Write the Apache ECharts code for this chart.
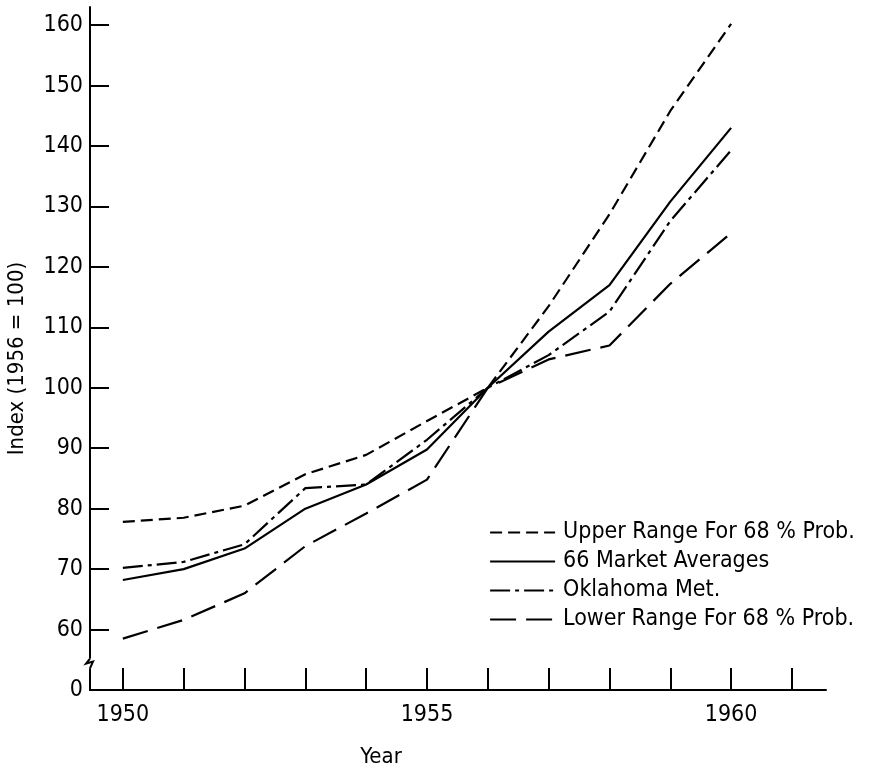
<!DOCTYPE html>
<html>
<head>
<meta charset="utf-8">
<script src="https://cdn.jsdelivr.net/npm/echarts@6/dist/echarts.min.js"></script>
<style>
html,body{margin:0;padding:0;background:#fff;}
#main{width:873px;height:770px;}
</style>
</head>
<body>
<div id="main"></div>
<script>
// ---- data ----
var years = [1950, 1951, 1952, 1953, 1954, 1955, 1956, 1957, 1958, 1959, 1960];
var upperRange = [77.8, 78.5, 80.5, 85.7, 88.9, 94.5, 100, 113.5, 128.7, 145.8, 160.2];
var marketAverages = [68.2, 70.0, 73.4, 80.0, 84.0, 89.8, 100, 109.3, 117.0, 130.8, 143.0];
var oklahomaMet = [70.2, 71.2, 74.1, 83.4, 84.0, 91.4, 100, 105.4, 112.6, 127.6, 139.3];
var lowerRange = [58.5, 61.6, 66.0, 73.8, 79.2, 84.8, 100, 104.7, 107.0, 117.2, 125.6];
var seriesNames = ['Upper Range For 68 % Prob.', '66 Market Averages', 'Oklahoma Met.', 'Lower Range For 68 % Prob.'];
var xTickYears = [1950, 1951, 1952, 1953, 1954, 1955, 1956, 1957, 1958, 1959, 1960, 1961];
var xLabelYears = [1950, 1955, 1960];
var yTickValues = [60, 70, 80, 90, 100, 110, 120, 130, 140, 150, 160];
var yLabelValues = [50, 60, 70, 80, 90, 100, 110, 120, 130, 140, 150, 160];

function pairs(vals) {
  return years.map(function (y, i) { return [y, vals[i]]; });
}

var FONT = '"DejaVu Sans Condensed", "Liberation Sans Narrow", "DejaVu Sans", sans-serif';
var chart = echarts.init(document.getElementById('main'));

function mkSeries(name, vals, type) {
  return {
    name: name,
    type: 'line',
    data: pairs(vals),
    symbol: 'none',
    smooth: false,
    lineStyle: { color: '#000', width: 2.2, type: type },
    itemStyle: { color: '#000' },
    emphasis: { disabled: true },
    animation: false
  };
}

var option = {
  animation: false,
  backgroundColor: '#fff',
  grid: { left: 90, right: 47, top: 7, bottom: 80, containLabel: false, outerBoundsMode: 'none' },
  legend: {
    orient: 'vertical',
    left: 484,
    top: 516,
    itemWidth: 65,
    itemHeight: 14,
    itemGap: 6,
    data: seriesNames,
    itemStyle: { opacity: 0 },
    lineStyle: { width: 2.2 },
    textStyle: { fontFamily: FONT, fontSize: 23, color: '#000', lineHeight: 22, padding: [0, 0, 0, 3] },
    selectedMode: false
  },
  xAxis: {
    type: 'value',
    min: 1949.46,
    max: 1961.56,
    name: 'Year',
    nameLocation: 'middle',
    nameGap: 56,
    nameTextStyle: { fontFamily: FONT, fontSize: 22, color: '#000', padding: [0, 154, 0, 0] },
    axisLine: { show: true, lineStyle: { color: '#000', width: 2 } },
    axisTick: { show: true, inside: true, length: 22, customValues: xTickYears, lineStyle: { color: '#000', width: 2 } },
    axisLabel: { show: true, customValues: xLabelYears, margin: 14, fontFamily: FONT, fontSize: 23, color: '#000',
      formatter: function (v) { return String(v); } },
    splitLine: { show: false }
  },
  yAxis: {
    type: 'value',
    min: 50,
    max: 163,
    name: 'Index (1956 = 100)',
    nameLocation: 'middle',
    nameGap: 62,
    nameRotate: 90,
    nameTextStyle: { fontFamily: FONT, fontSize: 22, color: '#000', padding: [0, 20, 0, 0] },
    axisLine: { show: true, lineStyle: { color: '#000', width: 2 } },
    axisTick: { show: true, inside: true, length: 19, customValues: yTickValues, lineStyle: { color: '#000', width: 2 } },
    axisLabel: { show: true, customValues: yLabelValues, margin: 7, fontFamily: FONT, fontSize: 23, color: '#000',
      formatter: function (v) { return v === 50 ? '0' : String(v); } },
    splitLine: { show: false }
  },
  series: [
    mkSeries(seriesNames[0], upperRange, [12, 6]),
    mkSeries(seriesNames[1], marketAverages, 'solid'),
    mkSeries(seriesNames[2], oklahomaMet, [20, 5, 4, 5]),
    mkSeries(seriesNames[3], lowerRange, [26, 10])
  ]
};
chart.setOption(option);

// axis break mark on the y axis (decoration)
var ax = chart.convertToPixel({ xAxisIndex: 0 }, 1949.46);
var yTop = chart.convertToPixel({ yAxisIndex: 0 }, 55.2);
var yBot = chart.convertToPixel({ yAxisIndex: 0 }, 53.6);
chart.setOption({
  graphic: [
    { type: 'rect', shape: { x: ax - 3, y: yTop, width: 6, height: yBot - yTop }, style: { fill: '#fff' }, z: 100 },
    { type: 'polyline', shape: { points: [[ax, yTop], [ax - 4, yTop + 5], [ax + 3, yTop + 3], [ax, yBot]] },
      style: { stroke: '#000', lineWidth: 2, fill: null }, z: 101 }
  ]
});
</script>
</body>
</html>
